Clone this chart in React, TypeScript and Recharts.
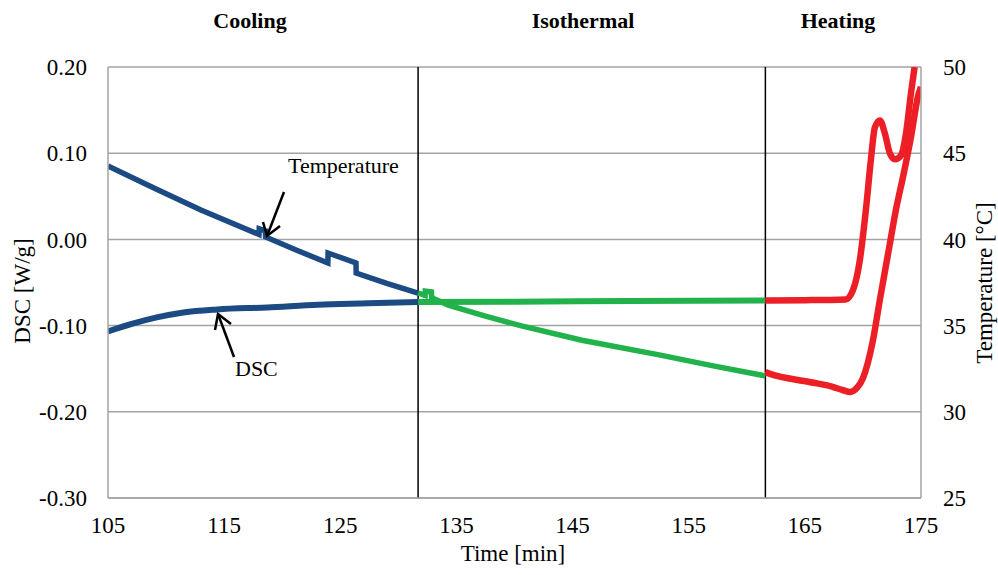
import React from 'react';
import { ComposedChart, Line, XAxis, YAxis, CartesianGrid, ReferenceLine } from 'recharts';

const BLUE = '#1c4b84';
const GREEN = '#21b24b';
const RED = '#ed1f26';
const FONT = '"Liberation Serif", "Times New Roman", serif';

// time [min] ticks, DSC [W/g] ticks, temperature [°C] ticks
const timeTicks = [105, 115, 125, 135, 145, 155, 165, 175];
const dscTicks = [-0.3, -0.2, -0.1, 0, 0.1, 0.2];
const tempTicks = [25, 30, 35, 40, 45, 50];

// phase boundaries
const phaseEdges = [131.7, 161.6];

// DSC signal
const dscCooling = [
  { t: 105, v: -0.1067 }, { t: 107.2, v: -0.0974 }, { t: 109.2, v: -0.0905 },
  { t: 111.5, v: -0.0847 }, { t: 114.4, v: -0.0812 }, { t: 118.7, v: -0.0789 },
  { t: 123.1, v: -0.0758 }, { t: 127.4, v: -0.0742 }, { t: 131.7, v: -0.0725 },
];
const dscIso = [
  { t: 131.7, v: -0.0725 }, { t: 140, v: -0.0722 }, { t: 150, v: -0.0715 }, { t: 161.6, v: -0.0708 },
];
const dscHeat = [
  { t: 161.6, v: -0.0708 }, { t: 165, v: -0.0705 }, { t: 168.5, v: -0.0696 },
  { t: 169.13, v: -0.0592 }, { t: 169.73, v: -0.0244 }, { t: 170.25, v: 0.0336 },
  { t: 170.68, v: 0.0916 }, { t: 171.03, v: 0.13 }, { t: 171.46, v: 0.138 },
  { t: 171.89, v: 0.123 }, { t: 172.32, v: 0.0998 }, { t: 172.76, v: 0.093 },
  { t: 173.27, v: 0.0974 }, { t: 173.71, v: 0.123 }, { t: 174.14, v: 0.17 }, { t: 174.45, v: 0.2 },
];

// temperature
const tempCooling = [
  { t: 105, v: 44.26 }, { t: 109, v: 42.97 }, { t: 113, v: 41.71 }, { t: 118.0, v: 40.29 },
  { t: 118.02, v: 40.62 }, { t: 118.55, v: 40.5 }, { t: 118.57, v: 40.14 }, { t: 121.3, v: 39.36 },
  { t: 123.93, v: 38.63 }, { t: 123.95, v: 39.21 }, { t: 126.35, v: 38.63 }, { t: 126.37, v: 38.05 },
  { t: 129, v: 37.45 }, { t: 131.7, v: 36.89 },
];
const tempIso = [
  { t: 131.7, v: 36.89 }, { t: 132.3, v: 36.75 }, { t: 132.32, v: 37.0 }, { t: 132.85, v: 36.95 },
  { t: 132.87, v: 36.62 }, { t: 134.3, v: 36.19 }, { t: 137.5, v: 35.55 }, { t: 140.6, v: 34.98 },
  { t: 145.8, v: 34.15 }, { t: 152.45, v: 33.3 }, { t: 157, v: 32.68 }, { t: 161.6, v: 32.08 },
];
const tempHeat = [
  { t: 161.6, v: 32.3 }, { t: 162.0, v: 32.2 }, { t: 165.4, v: 31.73 }, { t: 167.4, v: 31.45 },
  { t: 168.3, v: 31.25 }, { t: 168.9, v: 31.15 }, { t: 169.5, v: 31.4 }, { t: 170.0, v: 31.95 },
  { t: 170.85, v: 34.1 }, { t: 171.46, v: 36.5 }, { t: 172.32, v: 39.75 }, { t: 172.84, v: 41.71 },
  { t: 173.45, v: 43.62 }, { t: 174.14, v: 45.94 }, { t: 174.74, v: 48.3 }, { t: 175, v: 48.84 },
];

const tickText = (anchor: 'start' | 'middle' | 'end', fmt: (v: number) => string, dy: string) =>
  (props: any) => {
    const { x, y, payload } = props;
    return (
      <text x={x} y={y} dy={dy} textAnchor={anchor} fontSize={23} fontFamily={FONT} fill="#000">
        {fmt(payload.value)}
      </text>
    );
  };

export default function App() {
  return (
    <div style={{ position: 'absolute', left: 0, top: 0, width: 998, height: 575, background: '#fff', fontFamily: FONT }}>
      <ComposedChart width={998} height={575} margin={{ top: 67, right: 17, bottom: 37, left: 48 }}>
        <CartesianGrid yAxisId="left" vertical={false} stroke="#a3a3a3" strokeWidth={1.5} />
        <XAxis
          type="number"
          dataKey="t"
          domain={[105, 175]}
          ticks={timeTicks}
          allowDataOverflow
          height={40}
          tick={tickText('middle', (v) => String(v), '0.71em')}
          tickLine={false}
          tickSize={0}
          tickMargin={19}
          axisLine={{ stroke: '#a3a3a3', strokeWidth: 1.5 }}
        />
        <YAxis
          yAxisId="left"
          domain={[-0.3, 0.2]}
          ticks={dscTicks}
          allowDataOverflow
          width={60}
          tick={tickText('end', (v) => v.toFixed(2), '0.355em')}
          tickLine={false}
          tickSize={0}
          tickMargin={21}
          axisLine={{ stroke: '#a3a3a3', strokeWidth: 1.5 }}
        />
        <YAxis
          yAxisId="right"
          orientation="right"
          domain={[25, 50]}
          ticks={tempTicks}
          allowDataOverflow
          width={60}
          tick={tickText('start', (v) => String(v), '0.355em')}
          tickLine={false}
          tickSize={0}
          tickMargin={22}
          axisLine={{ stroke: '#a3a3a3', strokeWidth: 1.5 }}
        />
        {phaseEdges.map((x) => (
          <ReferenceLine key={x} x={x} yAxisId="left" stroke="#000" strokeWidth={1.5} />
        ))}
        <Line data={dscCooling} dataKey="v" yAxisId="left" type="monotone" stroke={BLUE} strokeWidth={6} dot={false} isAnimationActive={false} />
        <Line data={tempCooling} dataKey="v" yAxisId="right" type="linear" stroke={BLUE} strokeWidth={5.5} dot={false} isAnimationActive={false} />
        <Line data={dscIso} dataKey="v" yAxisId="left" type="monotone" stroke={GREEN} strokeWidth={6} dot={false} isAnimationActive={false} />
        <Line data={tempIso} dataKey="v" yAxisId="right" type="linear" stroke={GREEN} strokeWidth={5.5} dot={false} isAnimationActive={false} />
        <Line data={dscHeat} dataKey="v" yAxisId="left" type="monotone" stroke={RED} strokeWidth={6.5} dot={false} isAnimationActive={false} />
        <Line data={tempHeat} dataKey="v" yAxisId="right" type="monotone" stroke={RED} strokeWidth={6.5} dot={false} isAnimationActive={false} />
      </ComposedChart>
      <svg width={998} height={575} style={{ position: 'absolute', left: 0, top: 0, pointerEvents: 'none' }} fontFamily={FONT}>
        <g fontSize={22} fontWeight="bold" textAnchor="middle">
          <text x={250} y={28}>Cooling</text>
          <text x={583} y={28}>Isothermal</text>
          <text x={838} y={28}>Heating</text>
        </g>
        <text x={513} y={561} fontSize={23} textAnchor="middle">Time [min]</text>
        <text transform="translate(30,291) rotate(-90)" fontSize={23} textAnchor="middle">DSC [W/g]</text>
        <text transform="translate(992,283) rotate(-90)" fontSize={23} textAnchor="middle">Temperature [°C]</text>
        <text x={288} y={173} fontSize={22}>Temperature</text>
        <text x={235} y={376} fontSize={22}>DSC</text>
        <g stroke="#000" strokeWidth={2.5} fill="none">
          <path d="M284,192 L267,236" />
          <path d="M263,222 L267,236 L280,226" />
          <path d="M234,357 L218,314" />
          <path d="M215,330 L218,314 L231,324" />
        </g>
      </svg>
    </div>
  );
}
